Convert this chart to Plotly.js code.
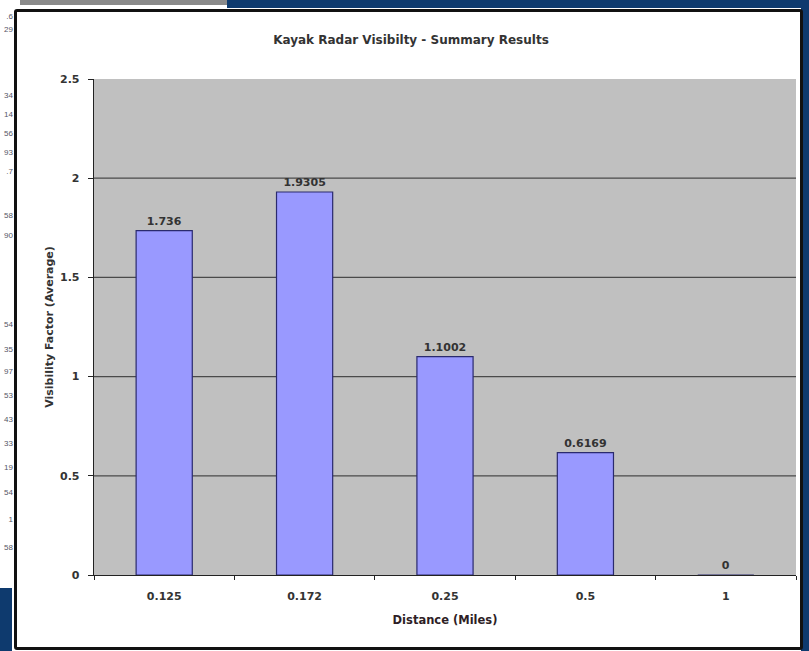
<!DOCTYPE html>
<html>
<head>
<meta charset="utf-8">
<script src="https://cdn.plot.ly/plotly-3.0.1.min.js"></script>
<style>
  html, body { margin: 0; padding: 0; width: 809px; height: 651px; overflow: hidden; background: #ffffff; }
  #frameTop1 { position: absolute; left: 20px; top: 0; width: 207px; height: 5px; background: #8a8a8a; }
  #frameTop2 { position: absolute; left: 227px; top: 0; width: 582px; height: 8px; background: #0e3a6e; }
  #frameRight { position: absolute; left: 801px; top: 0; width: 8px; height: 651px; background: #0e3a6e; }
  #frameBL { position: absolute; left: 0; top: 588px; width: 12px; height: 63px; background: #0e3a6e; }
  #sheet { position: absolute; left: 0; top: 0; width: 13px; height: 588px; }
  #sheet div { position: absolute; right: 0; font: 8px "Liberation Sans", Arial, sans-serif; color: #556; white-space: nowrap; }
  #box { position: absolute; left: 14px; top: 9px; width: 783px; height: 635px; border: 3px solid #111; border-radius: 3px; background: #fff; }
  #chart { position: absolute; left: 0; top: 0; width: 809px; height: 651px; }
</style>
</head>
<body>
<div id="frameTop1"></div>
<div id="frameTop2"></div>
<div id="frameRight"></div>
<div id="frameBL"></div>
<div id="sheet"></div>
<div id="box"></div>
<div id="chart"></div>
<script>
// Distance categories and the averaged visibility factor for each
const distances = ["0.125", "0.172", "0.25", "0.5", "1"];
const visibility = [1.736, 1.9305, 1.1002, 0.6169, 0];
const valueLabels = ["1.736", "1.9305", "1.1002", "0.6169", "0"];
const yTicks = [0, 0.5, 1, 1.5, 2, 2.5];
const yTickText = ["0", "0.5", "1", "1.5", "2", "2.5"];

// Neighbouring spreadsheet cells visible along the left edge
const sheetCells = [".6", "29", "34", "14", "56", "93", ".7", "58", "90", "54", "35", "97", "53", "43", "33", "19", "54", "1", "58"];
const sheetRows = [17, 30, 96, 115, 134, 153, 172, 216, 236, 325, 350, 372, 396, 420, 444, 468, 493, 520, 548];
const sheet = document.getElementById("sheet");
sheetCells.forEach((t, i) => {
  const d = document.createElement("div");
  d.textContent = t;
  d.style.top = (sheetRows[i] - 5) + "px";
  sheet.appendChild(d);
});

const font = "DejaVu Sans, Verdana, sans-serif";
const ink = "#333333";

// Horizontal gridlines at every tick inside the plot (not on the frame edges)
const gridShapes = yTicks.filter(v => v > 0 && v < yTicks[yTicks.length - 1]).map(v => ({
  type: "line", layer: "below", xref: "paper", x0: 0, x1: 1, yref: "y", y0: v, y1: v,
  line: { color: "#4a4a4a", width: 1.3 }
}));

const trace = {
  type: "bar",
  x: distances,
  y: visibility,
  width: 0.4,
  marker: { color: "#9999ff", line: { color: "#2a2a6e", width: 1.2 } },
  text: valueLabels,
  texttemplate: "<b>%{text}</b>",
  textposition: "outside",
  textfont: { family: font, size: 11, color: ink },
  cliponaxis: false,
  hoverinfo: "x+y"
};

const layout = {
  width: 809,
  height: 651,
  margin: { l: 94, r: 13, t: 79, b: 76 },
  paper_bgcolor: "rgba(0,0,0,0)",
  plot_bgcolor: "#c0c0c0",
  showlegend: false,
  title: {
    text: "<b>Kayak Radar Visibilty - Summary Results</b>",
    font: { family: font, size: 12, color: ink },
    x: 0.508, xanchor: "center", xref: "container",
    y: 34, yref: "container", yanchor: "middle"
  },
  xaxis: {
    type: "category",
    showgrid: false,
    showline: true, linecolor: "#222", linewidth: 1.3,
    ticks: "outside", tickson: "boundaries", ticklen: 4, tickcolor: "#222",
    ticklabelstandoff: 10,
    tickfont: { family: font, size: 11, color: ink, weight: "bold" },
    title: { text: "<b>Distance (Miles)</b>", font: { family: font, size: 11.5, color: "#2e1e26" }, standoff: 14 },
    fixedrange: true
  },
  yaxis: {
    range: [0, 2.5],
    tickvals: yTicks,
    ticktext: yTickText,
    showgrid: false,
    zeroline: false,
    showline: true, linecolor: "#222", linewidth: 1.3,
    ticks: "outside", ticklen: 5, tickcolor: "#222",
    ticklabelstandoff: 6,
    tickfont: { family: font, size: 11, color: ink, weight: "bold" },
    title: { text: "<b>Visibility Factor (Average)</b>", font: { family: font, size: 11, color: ink }, standoff: 4 },
    fixedrange: true
  },
  shapes: gridShapes
};

Plotly.newPlot("chart", [trace], layout, { displayModeBar: false, staticPlot: true });
</script>
</body>
</html>
